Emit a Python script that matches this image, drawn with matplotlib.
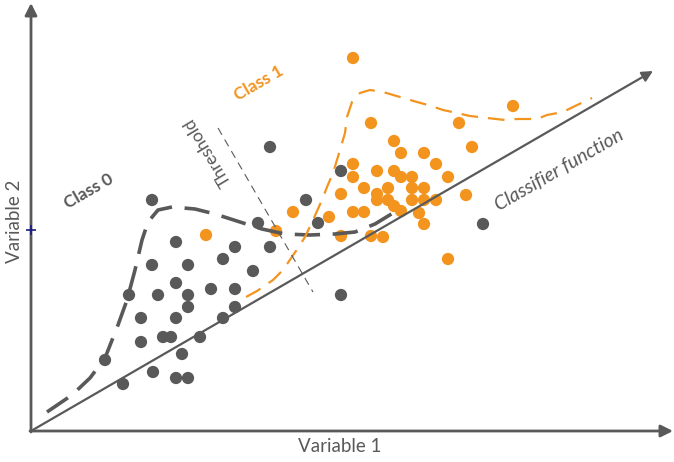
import matplotlib.pyplot as plt

# everything is laid out in image pixel units (x right, y down)
gray_x = [152, 270, 306, 341, 258, 318, 483,
          176, 235, 270, 152, 188, 223, 253,
          129, 158, 176, 188, 211, 235, 188, 235, 341,
          141, 176, 223, 141, 163, 171, 200, 182, 105, 153, 176, 188, 123]
gray_y = [200, 147, 200, 171, 223, 223, 224,
          242, 247, 247, 265, 265, 259, 271,
          295, 295, 283, 295, 289, 289, 307, 307, 295,
          318, 318, 318, 342, 337, 337, 337, 354, 360, 372, 378, 378, 384]

orange_x = [353, 513, 371, 459, 394, 401, 424, 472, 353, 436, 353, 377, 394, 401,
            412, 448, 341, 364, 388, 412, 424, 377, 377, 388, 412, 424, 436, 466,
            394, 401, 353, 364, 419, 293, 329, 424, 341, 371, 383, 448, 276, 206]
orange_y = [58, 106, 123, 123, 141, 153, 153, 147, 164, 164, 177, 171, 171, 177,
            177, 177, 194, 188, 188, 188, 188, 194, 200, 200, 200, 200, 200, 195,
            206, 211, 212, 212, 213, 212, 217, 224, 236, 236, 237, 259, 231, 235]

# class 0 boundary (thick gray dashed)
c0_x = [47, 72, 90, 105, 118, 127, 135, 142, 148, 158, 172, 195, 215, 240,
        262, 285, 310, 335, 355, 375, 393]
c0_y = [412, 395, 378, 358, 325, 300, 270, 240, 222, 210, 207, 209, 214, 222,
        229, 234, 235, 234, 232, 224, 213]

# class 1 boundary (orange dashed)
c1_x = [246, 257, 273, 283, 298, 305, 313, 322, 327, 333, 340, 345, 347, 352,
        360, 370, 383, 400, 417, 428, 443, 457, 470, 487, 505, 517, 537, 547,
        563, 573, 592]
c1_y = [297, 291, 280, 270, 248, 237, 220, 200, 187, 173, 150, 133, 117, 102,
        93, 90, 92, 97, 102, 105, 110, 113, 116, 118, 120, 119, 119, 115,
        112, 107, 98]

thresh_x = [218, 313]
thresh_y = [128, 292]

GRAY = '#595959'
ORANGE = '#F2941E'

plt.rcParams['font.family'] = ['Lato', 'DejaVu Sans']

fig = plt.figure(figsize=(6.74, 4.62), dpi=100)
ax = fig.add_axes([0, 0, 1, 1])
ax.set_xlim(0, 674)
ax.set_ylim(462, 0)
ax.axis('off')

ax.scatter(gray_x, gray_y, s=78, color=GRAY, edgecolors='none', zorder=2)
ax.scatter(orange_x, orange_y, s=78, color=ORANGE, edgecolors='none', zorder=2)

ax.plot(c0_x, c0_y, color=GRAY, lw=2.6, linestyle=(0, (7, 3.5)),
        solid_capstyle='butt', zorder=3)
ax.plot(c1_x, c1_y, color=ORANGE, lw=1.6, linestyle=(0, (7.5, 4.5)), zorder=3)
ax.plot(thresh_x, thresh_y, color=GRAY, lw=0.8, linestyle=(0, (7, 5)), zorder=3)

# axes and classifier arrows
arrow = dict(arrowstyle='-|>', color=GRAY, lw=2, mutation_scale=18,
             shrinkA=0, shrinkB=0)
ax.annotate('', xy=(31, 3), xytext=(31, 432), arrowprops=arrow, zorder=4)
ax.annotate('', xy=(673, 431), xytext=(30, 431), arrowprops=arrow, zorder=4)
ax.annotate('', xy=(653, 71), xytext=(31, 431),
            arrowprops=dict(arrow, lw=1.6, mutation_scale=16), zorder=4)

ax.plot([31], [230], marker='+', color='#1a1a80', ms=7, mew=1.2, zorder=5)

ax.text(340, 447, 'Variable 1', fontsize=13.5, color=GRAY, ha='center', va='center')
ax.text(15, 221, 'Variable 2', fontsize=13.5, color=GRAY, ha='center', va='center',
        rotation=90)
ax.text(89, 191, 'Class 0', fontsize=12.5, color=GRAY, fontweight='bold',
        ha='center', va='center', rotation=30)
ax.text(259, 83, 'Class 1', fontsize=12.5, color=ORANGE, fontweight='bold',
        ha='center', va='center', rotation=30)
ax.text(208, 152, 'Threshold', fontsize=12.5, color=GRAY, ha='center',
        va='center', rotation=121)
ax.text(559, 170, 'Classifier function', fontsize=14, color=GRAY, style='italic',
        ha='center', va='center', rotation=30)

fig.savefig('out.png', dpi=100)
